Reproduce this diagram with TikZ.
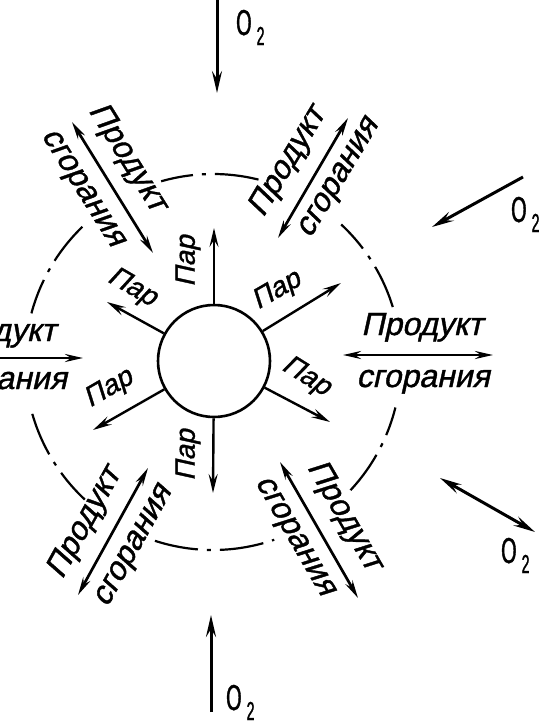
\documentclass[tikz,border=0pt]{standalone}
\usepackage{fontspec}
\setmainfont{Liberation Sans}
\newfontfamily\gost[FakeSlant=0.22,FakeBold=1.2]{Liberation Sans}
\newfontfamily\gostup[FakeStretch=0.55,FakeBold=1.2]{Liberation Sans}
\usetikzlibrary{arrows.meta}
\tikzset{
  prod/.style={line width=2.7pt, {Stealth[length=18pt,width=8pt,inset=6pt]}-{Stealth[length=18pt,width=8pt,inset=6pt]}},
  parr/.style={line width=2.4pt, -{Stealth[length=19pt,width=9pt,inset=7pt]}},
  oxy/.style={line width=3pt, -{Stealth[length=22pt,width=10pt,inset=8pt]}},
  oxyd/.style={line width=3pt, {Stealth[length=22pt,width=10pt,inset=8pt]}-{Stealth[length=22pt,width=10pt,inset=8pt]}},
  lbl/.style={font=\gost\fontsize{32}{32}\selectfont, inner sep=0pt},
  parlbl/.style={font=\gost\fontsize{28}{28}\selectfont, inner sep=0pt},
  olbl/.style={font=\gostup\fontsize{36}{36}\selectfont, inner sep=0pt, anchor=base west},
  chainline/.style={line width=2.2pt, dash pattern=on 44pt off 9pt on 4pt off 9pt},
}
\newcommand{\otwo}{O\kern5pt\raisebox{-10pt}{\fontsize{26}{26}\selectfont 2}}
\begin{document}
\begin{tikzpicture}[x=1pt,y=-1pt]
\useasboundingbox (0,0) rectangle (542,726);
\clip (0,0) rectangle (542,726);
\fill[white] (0,0) rectangle (542,726);

% outer dash-dot circle
\foreach \a/\b in {76/106, 134/165, 196/227, 252/289, 317/346, 17/47}
  \draw[chainline] plot[domain=\a:\b, samples=40, smooth] ({213+188*cos(\x)}, {362-188*sin(\x)});

% central drop
\node[circle, draw, line width=2.6pt, minimum size=112pt, inner sep=0pt] (c) at (214,361) {};

% vapour arrows
\coordinate (p1) at (214,228);
\coordinate (p2) at (341,283);
\coordinate (p3) at (330,422);
\coordinate (p4) at (213,493);
\coordinate (p5) at (93,430);
\coordinate (p6) at (107,302);
\foreach \i in {1,...,6} \draw[parr] (c) -- (p\i);

\node[parlbl, rotate=90]  (l1) at (188,261) {Пар};
\node[parlbl, rotate=30]  (l2) at (277,291) {Пар};
\node[parlbl, rotate=-32] (l3) at (306,377) {Пар};
\node[parlbl, rotate=90]  (l4) at (188,455) {Пар};
\node[parlbl, rotate=30]  (l5) at (109,389) {Пар};
\node[parlbl, rotate=-30] (l6) at (132,288) {Пар};

% combustion product arrows
\coordinate (a1) at (72,122);   \coordinate (a2) at (153,253);
\coordinate (b1) at (348,118);  \coordinate (b2) at (278,238);
\coordinate (r1) at (343,355);  \coordinate (r2) at (493,355);
\coordinate (w1) at (-70,358);  \coordinate (w2) at (83,358);
\coordinate (e1) at (280,462);  \coordinate (e2) at (358,598);
\coordinate (f1) at (148,468);  \coordinate (f2) at (78,595);
\draw[prod] (a1) -- (a2);
\draw[prod] (b1) -- (b2);
\draw[prod] (r1) -- (r2);
\draw[prod] (w1) -- (w2);
\draw[prod] (e1) -- (e2);
\draw[prod] (f1) -- (f2);

\node[lbl, rotate=-58] (ta1) at (127,158) {Продукт};
\node[lbl, rotate=-58] (ta2) at (81,189) {сгорания};
\node[lbl, rotate=59]  (tb1) at (288,162) {Продукт};
\node[lbl, rotate=59]  (tb2) at (340,179) {сгорания};
\node[lbl, anchor=base] (tr1) at (422,335) {Продукт};
\node[lbl, anchor=base] (tr2) at (423,387) {сгорания};
\node[lbl, anchor=base east] (tw1) at (56,341) {Продукт};
\node[lbl, anchor=base east] (tw2) at (67,389) {сгорания};
\node[lbl, rotate=-60] (te1) at (344,516) {Продукт};
\node[lbl, rotate=-60] (te2) at (293,537) {сгорания};
\node[lbl, rotate=61]  (tf1) at (85,523) {Продукт};
\node[lbl, rotate=61]  (tf2) at (135,547) {сгорания};

% oxygen arrows
\coordinate (o1s) at (217,-5);  \coordinate (o1e) at (217,93);
\coordinate (o2s) at (523,177); \coordinate (o2e) at (432,227);
\coordinate (o3s) at (440,478); \coordinate (o3e) at (535,532);
\coordinate (o4s) at (211,712); \coordinate (o4e) at (211,615);
\draw[oxy] (o1s) -- (o1e);
\draw[oxy] (o2s) -- (o2e);
\draw[oxyd] (o3s) -- (o3e);
\draw[oxy] (o4s) -- (o4e);

\node[olbl] (ol1) at (236,35) {\otwo};
\node[olbl] (ol2) at (511,222) {\otwo};
\node[olbl] (ol3) at (501,563) {\otwo};
\node[olbl] (ol4) at (226,710) {\otwo};
\end{tikzpicture}
\end{document}
